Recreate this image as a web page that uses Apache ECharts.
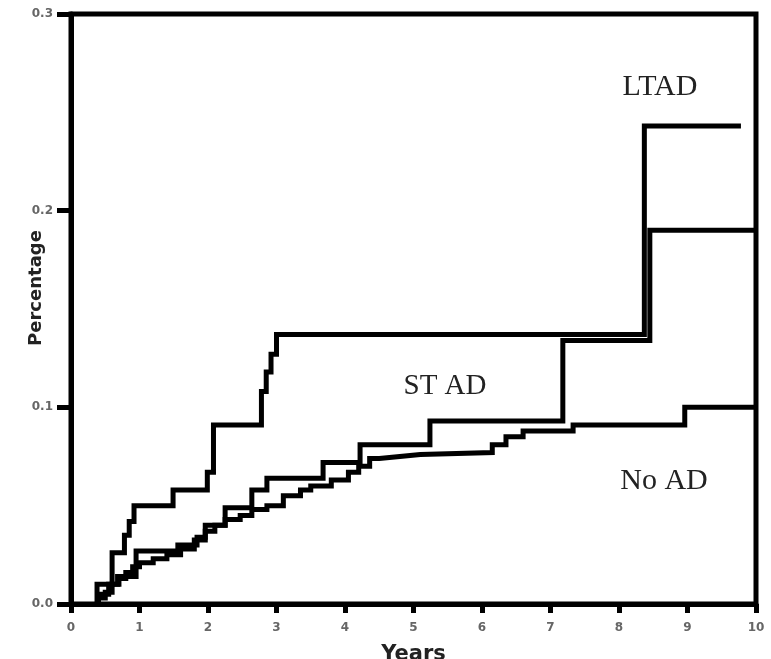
<!DOCTYPE html>
<html>
<head>
<meta charset="utf-8">
<script src="https://cdn.jsdelivr.net/npm/echarts@6/dist/echarts.min.js"></script>
<style>
  html, body { margin: 0; padding: 0; background: #fff; }
  #chart { width: 771px; height: 659px; }
</style>
</head>
<body>
<div id="chart"></div>
<script>
// each pair: year of the step, cumulative percentage after the step (last pair = end of follow-up)
const ltadYears = [0.38, 0.38, 0.6, 0.78, 0.85, 0.92, 1.49, 1.99, 2.08, 2.78, 2.85, 2.92, 3.0, 8.37, 9.78]
const ltadValues = [0.0, 0.01, 0.026, 0.035, 0.042, 0.05, 0.058, 0.067, 0.091, 0.108, 0.118, 0.127, 0.137, 0.243, 0.243]

const stadYears = [0.4, 0.4, 0.55, 0.68, 0.95, 1.56, 1.84, 1.96, 2.25, 2.64, 2.86, 3.68, 4.22, 5.24, 7.18, 8.45, 10]
const stadValues = [0.0, 0.005, 0.01, 0.014, 0.027, 0.03, 0.034, 0.04, 0.049, 0.058, 0.064, 0.072, 0.081, 0.093, 0.134, 0.19, 0.19]

const noadYears = [0.4, 0.4, 0.5, 0.6, 0.7, 0.8, 0.9, 1.0, 1.2, 1.4, 1.6, 1.8, 1.96, 2.1, 2.25, 2.47, 2.64, 2.86, 3.1, 3.35, 3.5, 3.8, 4.05, 4.2, 4.36, 4.5, 4.8, 5.1, 6.15, 6.35, 6.6, 7.33, 8.96, 10]
const noadValues = [0.0, 0.003, 0.006, 0.01, 0.013, 0.016, 0.019, 0.021, 0.023, 0.025, 0.028, 0.0325, 0.037, 0.04, 0.043, 0.045, 0.048, 0.05, 0.055, 0.058, 0.06, 0.063, 0.067, 0.07, 0.074, 0.075, 0.076, 0.077, 0.081, 0.085, 0.088, 0.091, 0.1, 0.1]

const xTicks = [0, 1, 2, 3, 4, 5, 6, 7, 8, 9, 10]
const yTicks = ['0.0', '0.1', '0.2', '0.3']

const chart = echarts.init(document.getElementById('chart'))

function pairs(xs, ys) {
  return xs.map((x, i) => [x, ys[i]])
}

function stepSeries(name, xs, ys) {
  return {
    name: name,
    type: 'line',
    step: 'end',
    showSymbol: false,
    symbol: 'none',
    clip: false,
    lineStyle: { color: '#000', width: 5, cap: 'butt', join: 'miter' },
    data: pairs(xs, ys)
  }
}

const labelFont = {
  fontFamily: 'DejaVu Sans, sans-serif',
  fontWeight: 'bold',
  fontSize: 12,
  color: '#666'
}

const annoFont = 'Liberation Serif, Times New Roman, serif'

const option = {
  backgroundColor: '#fff',
  animation: false,
  grid: {
    left: 71,
    right: 15,
    top: 14,
    bottom: 55,
    containLabel: false,
    outerBoundsMode: 'none',
    show: true,
    borderColor: '#000',
    borderWidth: 5
  },
  xAxis: {
    type: 'value',
    min: 0,
    max: 10,
    interval: 1,
    name: 'Years',
    nameLocation: 'middle',
    nameGap: 40,
    nameTextStyle: {
      fontFamily: 'DejaVu Sans, sans-serif',
      fontWeight: 'bold',
      fontSize: 21,
      color: '#222'
    },
    axisLine: { show: true, lineStyle: { color: '#000', width: 5 } },
    axisTick: { show: true, length: 9, lineStyle: { color: '#000', width: 5 } },
    axisLabel: Object.assign({ margin: 18, formatter: v => xTicks.includes(v) ? String(v) : '' }, labelFont),
    splitLine: { show: false }
  },
  yAxis: {
    type: 'value',
    min: 0,
    max: 0.3,
    interval: 0.1,
    axisLine: { show: true, lineStyle: { color: '#000', width: 5 } },
    axisTick: { show: true, length: 14, lineStyle: { color: '#000', width: 5 } },
    axisLabel: Object.assign({ margin: 18, formatter: v => yTicks[Math.round(v * 10)] }, labelFont),
    splitLine: { show: false }
  },
  graphic: [
    {
      type: 'text',
      x: 36,
      y: 288,
      rotation: Math.PI / 2,
      style: {
        text: 'Percentage',
        fontFamily: 'DejaVu Sans, sans-serif',
        fontWeight: 'bold',
        fontSize: 18,
        fill: '#222',
        align: 'center',
        verticalAlign: 'middle'
      }
    },
    {
      type: 'text', x: 660, y: 87,
      style: { text: 'LTAD', fontFamily: annoFont, fontSize: 30, fill: '#222', align: 'center', verticalAlign: 'middle' }
    },
    {
      type: 'text', x: 445, y: 386,
      style: { text: 'ST AD', fontFamily: annoFont, fontSize: 29, fill: '#222', align: 'center', verticalAlign: 'middle' }
    },
    {
      type: 'text', x: 664, y: 481,
      style: { text: 'No AD', fontFamily: annoFont, fontSize: 30, fill: '#222', align: 'center', verticalAlign: 'middle' }
    }
  ],
  series: [
    stepSeries('LTAD', ltadYears, ltadValues),
    stepSeries('STAD', stadYears, stadValues),
    stepSeries('No AD', noadYears, noadValues)
  ]
}

chart.setOption(option)
</script>
</body>
</html>
